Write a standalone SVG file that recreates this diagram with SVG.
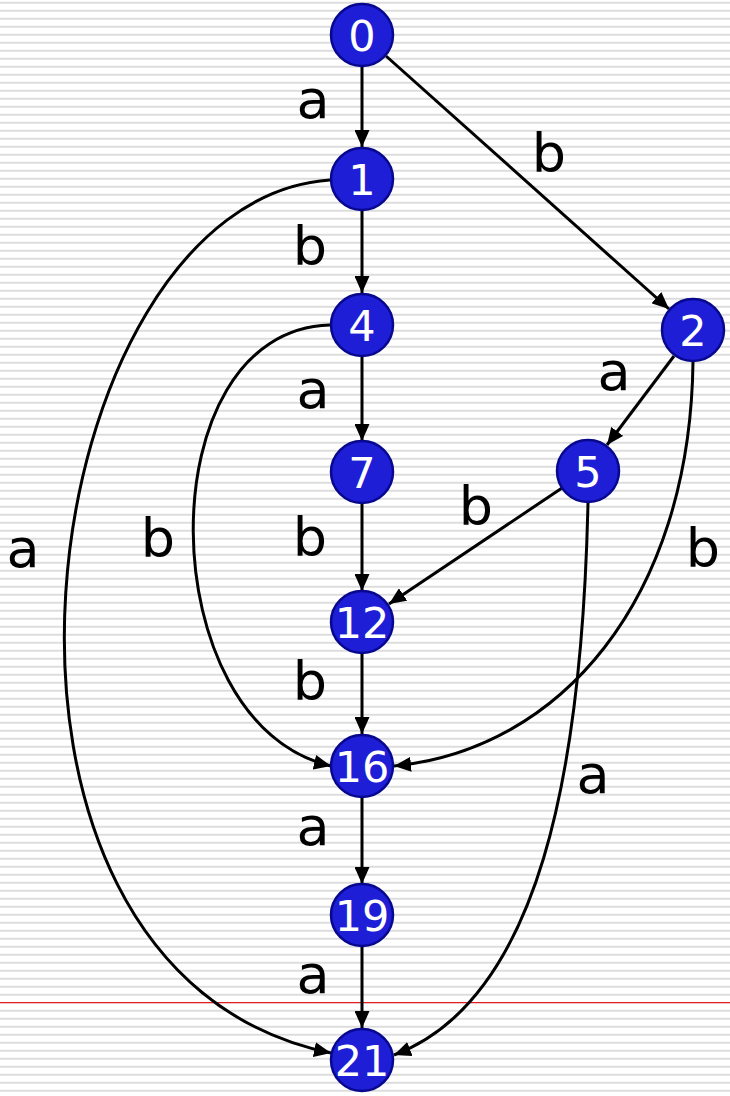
<svg xmlns="http://www.w3.org/2000/svg" width="730" height="1096" viewBox="0 0 730 1096">
<style>
.node circle{fill:#1e1ed6;stroke:#08088f;stroke-width:2.5}
.node text{fill:#fff;font-family:"DejaVu Sans",sans-serif;font-size:43px;text-anchor:middle}
.edge{fill:none;stroke:#000;stroke-width:3;marker-end:url(#arr)}
.lbl{fill:#000;font-family:"DejaVu Sans",sans-serif;font-size:54px;text-anchor:middle}
</style>
<defs>
<pattern id="ruled" patternUnits="userSpaceOnUse" width="730" height="8">
<rect x="0" y="1.8" width="730" height="1.9" fill="#dcdcdc"/>
</pattern>
<marker id="arr" viewBox="0 0 17 15" refX="17" refY="7.5" markerWidth="17" markerHeight="15" markerUnits="userSpaceOnUse" orient="auto">
<path d="M0,0 L17,7.5 L0,15 z" fill="#000"/>
</marker>
</defs>
<rect width="730" height="1096" fill="#fff"/>
<rect width="730" height="1096" fill="url(#ruled)"/>
<line x1="0" y1="1002.7" x2="730" y2="1002.7" stroke="#fff" stroke-width="2.2"/>
<line x1="0" y1="1002.7" x2="730" y2="1002.7" stroke="#e02020" stroke-width="1.3"/>
<g id="connectors">
<path class="edge" d="M362,67 L362,147"/>
<path class="edge" d="M362,211 L362,293"/>
<path class="edge" d="M362,357 L362,441"/>
<path class="edge" d="M362,503 L362,591"/>
<path class="edge" d="M362,654 L362,734"/>
<path class="edge" d="M362,798 L362,884"/>
<path class="edge" d="M362,947 L362,1028"/>
<path class="edge" d="M386,56 L669,309"/>
<path class="edge" d="M674,356 L607,445"/>
<path class="edge" d="M562,488 L389,604"/>
<path class="edge" d="M330,180 C30,200 -75,970 331,1053"/>
<path class="edge" d="M330,325 C145,330 150,725 331,766"/>
<path class="edge" d="M693,362 C690,600 560,750 394,766"/>
<path class="edge" d="M588,503 C582,770 540,1000 394,1055"/>
<text class="lbl" x="313" y="118">a</text>
<text class="lbl" x="549" y="172">b</text>
<text class="lbl" x="310" y="265">b</text>
<text class="lbl" x="313" y="408">a</text>
<text class="lbl" x="614" y="390">a</text>
<text class="lbl" x="476" y="525">b</text>
<text class="lbl" x="310" y="556">b</text>
<text class="lbl" x="158" y="557">b</text>
<text class="lbl" x="23" y="567">a</text>
<text class="lbl" x="703" y="567">b</text>
<text class="lbl" x="310" y="700">b</text>
<text class="lbl" x="593" y="793">a</text>
<text class="lbl" x="313" y="845">a</text>
<text class="lbl" x="313" y="993">a</text>
</g>
<g id="n0" class="node"><circle cx="362" cy="35" r="31"/><text x="362" y="51">0</text></g>
<g id="n1" class="node"><circle cx="362" cy="179" r="31"/><text x="362" y="195">1</text></g>
<g id="n4" class="node"><circle cx="362" cy="325" r="31"/><text x="362" y="341">4</text></g>
<g id="n7" class="node"><circle cx="362" cy="472" r="31"/><text x="362" y="488">7</text></g>
<g id="n12" class="node"><circle cx="362" cy="622" r="31"/><text x="362" y="638">12</text></g>
<g id="n16" class="node"><circle cx="362" cy="766" r="31"/><text x="362" y="782">16</text></g>
<g id="n19" class="node"><circle cx="362" cy="915" r="31"/><text x="362" y="931">19</text></g>
<g id="n21" class="node"><circle cx="362" cy="1060" r="31"/><text x="362" y="1076">21</text></g>
<g id="n2" class="node"><circle cx="693" cy="330" r="31"/><text x="693" y="346">2</text></g>
<g id="n5" class="node"><circle cx="588" cy="471" r="31"/><text x="588" y="487">5</text></g>
</svg>
